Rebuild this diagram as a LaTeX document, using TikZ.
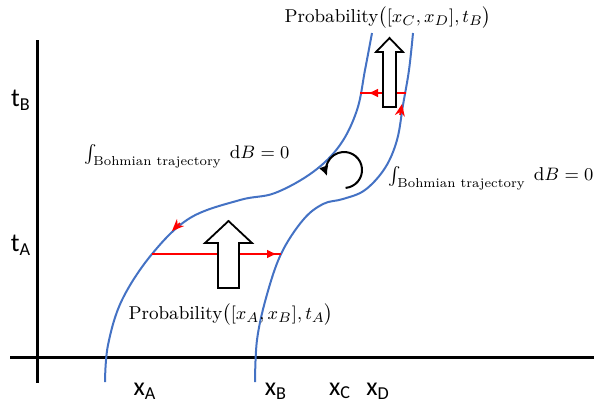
\documentclass[tikz,border=0pt]{standalone}
\usepackage{amsmath}
\usepackage{fontspec}
\newfontfamily\axisfont{Carlito}
\usetikzlibrary{arrows.meta,positioning}
\definecolor{trajblue}{RGB}{68,114,196}

\begin{document}
\begin{tikzpicture}[
        x=0.5pt, y=-0.5pt,
        axis/.style={line width=1.5pt},
        traj/.style={draw=trajblue, line width=1pt},
        flux/.style={draw=red, line width=1.1pt},
        fluxtip/.style={red, line width=1.1pt, -{Latex[length=5pt,width=4.5pt]}},
        curvetip/.style={red, line width=0.8pt, -{Stealth[length=6pt,width=5pt]}},
        block/.style={draw=black, fill=white, line width=0.9pt},
        lbl/.style={font=\fontsize{9.3}{11}\selectfont, inner sep=0pt},
        tick/.style={font=\axisfont\fontsize{13}{15}\selectfont, inner sep=0pt}
    ]
    \useasboundingbox (0,0) rectangle (594,403);

    % Axes
    \draw[axis] (10,357) -- (594,357);
    \draw[axis] (37,40) -- (37,383);
    \node[tick] (tB) at (21,100) {t\textsubscript{B}};
    \node[tick] (tA) at (21,245) {t\textsubscript{A}};
    \node[tick] (xA) at (145,391) {x\textsubscript{A}};
    \node[tick] (xB) at (276,391) {x\textsubscript{B}};
    \node[tick] (xC) at (340,391) {x\textsubscript{C}};
    \node[tick] (xD) at (378,391) {x\textsubscript{D}};

    % Trajectories
    \draw[traj] plot[smooth, tension=0.6] coordinates {(105,382) (108,345) (122,300) (152,254) (190,218) (240,200) (275,193) (313,172) (340,145) (357,110) (365,70) (372,33)};
    \draw[traj] plot[smooth, tension=0.6] coordinates {(255,382) (257,340) (266,298) (281,254) (303,220) (323,204) (343,199) (365,190) (385,168) (397,140) (403,105) (409,70) (413,33)};

    % Flux lines
    \coordinate (a1) at (152,254);
    \coordinate (a2) at (281,254);
    \coordinate (b1) at (406,93);
    \coordinate (b2) at (360,93);
    \draw[flux] (a1) -- (a2);
    \draw[fluxtip] (a1) -- (277,254);
    \draw[flux] (b1) -- (b2);
    \draw[fluxtip] (b1) -- (368,93);
    \draw[curvetip] (180,223) -- (172,231);
    \draw[curvetip] (400,115) -- (402,104);

    % Probability arrows
    \draw[block] (218,288) -- (218,243) -- (205,243) -- (228.5,221) -- (252,243) -- (239,243) -- (239,288) -- cycle;
    \draw[block] (383,107) -- (383,52) -- (376,52) -- (389.5,38) -- (403,52) -- (396,52) -- (396,107) -- cycle;

    % Circulation
    \draw[line width=1pt, -{Latex[length=5pt,width=5pt]}] (345.6,187.9) arc[start angle=85, end angle=-200, radius=18];

    % Labels
    \node[lbl] (probB) at (388,18) {$\text{Probability}\bigl([x_C,x_D],t_B\bigr)$};
    \node[lbl] (probA) at (231,315) {$\text{Probability}\bigl([x_A,x_B],t_A\bigr)$};
    \node[lbl] (intL) at (187,156) {$\int_{\text{Bohmian trajectory}}\;\mathrm{d}B=0$};
    \node[lbl] (intR) at (491,178) {$\int_{\text{Bohmian trajectory}}\;\mathrm{d}B=0$};

\end{tikzpicture}
\end{document}
